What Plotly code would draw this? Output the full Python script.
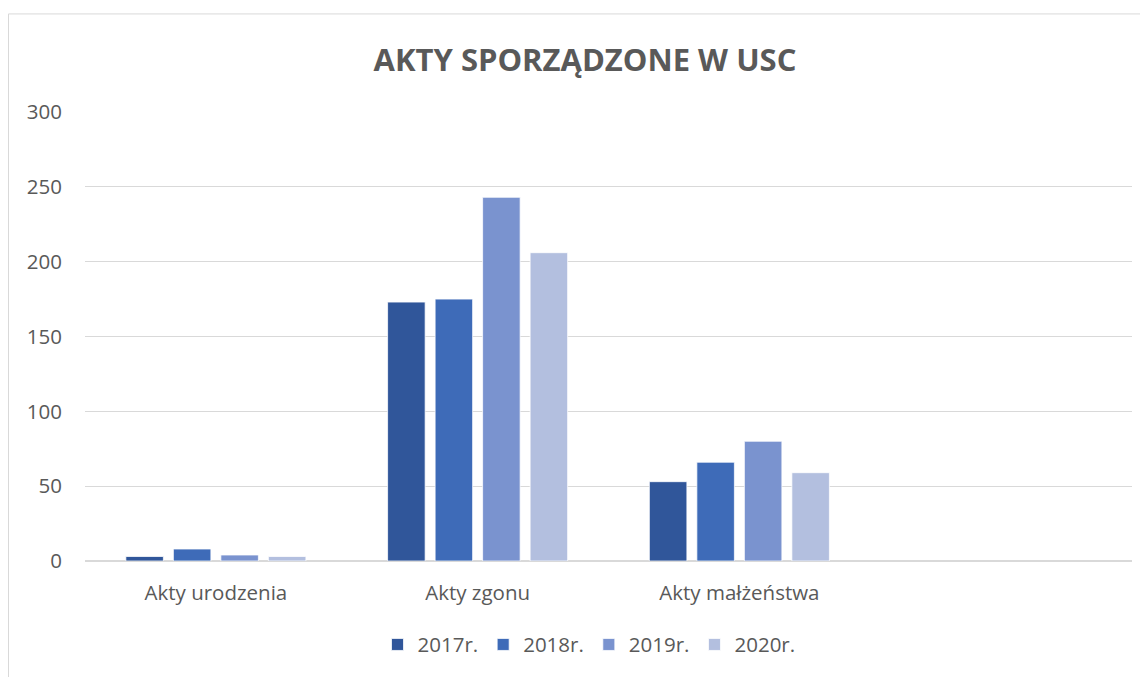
import plotly.graph_objects as go

categories = ["Akty urodzenia", "Akty zgonu", "Akty małżeństwa"]
series_names = ["2017r.", "2018r.", "2019r.", "2020r."]
values_2017 = [3, 173, 53]
values_2018 = [8, 175, 66]
values_2019 = [4, 243, 80]
values_2020 = [3, 206, 59]
colors = ["#30569A", "#3E6BB8", "#7A93CF", "#B3BFDF"]
y_ticks = [0, 50, 100, 150, 200, 250, 300]

FONT = "Open Sans"
GREY = "#595959"

# the page body adds an 8px offset; positions below are in figure coordinates
OFF = 8
W, H = 1140, 669
L, R = 85 - OFF, 16
T, B = 112 - OFF, H - (563 - OFF)
pw = W - L - R
ph = H - T - B

fig = go.Figure()
for name, vals, col in zip(series_names, [values_2017, values_2018, values_2019, values_2020], colors):
    fig.add_trace(go.Bar(
        x=categories, y=vals, name=name,
        marker=dict(color=col, line=dict(color="#FFFFFF", width=0.75)),
    ))

fig.update_layout(
    width=W, height=H,
    margin=dict(l=L, r=R, t=T, b=B, pad=0),
    paper_bgcolor="white", plot_bgcolor="white",
    barmode="group", bargap=0.274, bargroupgap=0.21,
    title=dict(text="<b>AKTY SPORZĄDZONE W USC</b>", x=(585 - OFF) / W, xanchor="center",
               y=1 - (60 - OFF) / H, yanchor="middle",
               font=dict(family=FONT, size=31, color=GREY)),
    font=dict(family=FONT, size=20.5, color=GREY),
    legend=dict(orientation="h", x=(589 - 85) / pw, xanchor="center", y=-(647 - 563) / ph, yanchor="middle",
                font=dict(family=FONT, size=20.5, color=GREY), itemwidth=30,
                traceorder="normal"),
    xaxis=dict(type="category", categoryorder="array", categoryarray=categories,
               range=[-0.5, 3.5], showgrid=False, showline=False, ticks="",
               tickfont=dict(family=FONT, size=20.5, color=GREY), ticklabelstandoff=17,
               zeroline=False),
    yaxis=dict(range=[0, 300], tickvals=y_ticks, showgrid=True, gridcolor="#D9D9D9", gridwidth=1,
               zeroline=True, zerolinecolor="#D9D9D9", zerolinewidth=1.5,
               showline=False, ticks="", tickfont=dict(family=FONT, size=20.5, color=GREY),
               ticklabelstandoff=22),
    showlegend=True,
)

# outer chart border
fig.add_shape(type="rect", xref="paper", yref="paper",
              x0=(8.5 - 85) / pw, x1=(1148 + 10 - 85) / pw,
              y0=-(677 + 10 - 563) / ph, y1=(563 - 13.5) / ph,
              line=dict(color="#D9D9D9", width=1), fillcolor="rgba(0,0,0,0)", layer="below")

fig.write_html("out.html")
